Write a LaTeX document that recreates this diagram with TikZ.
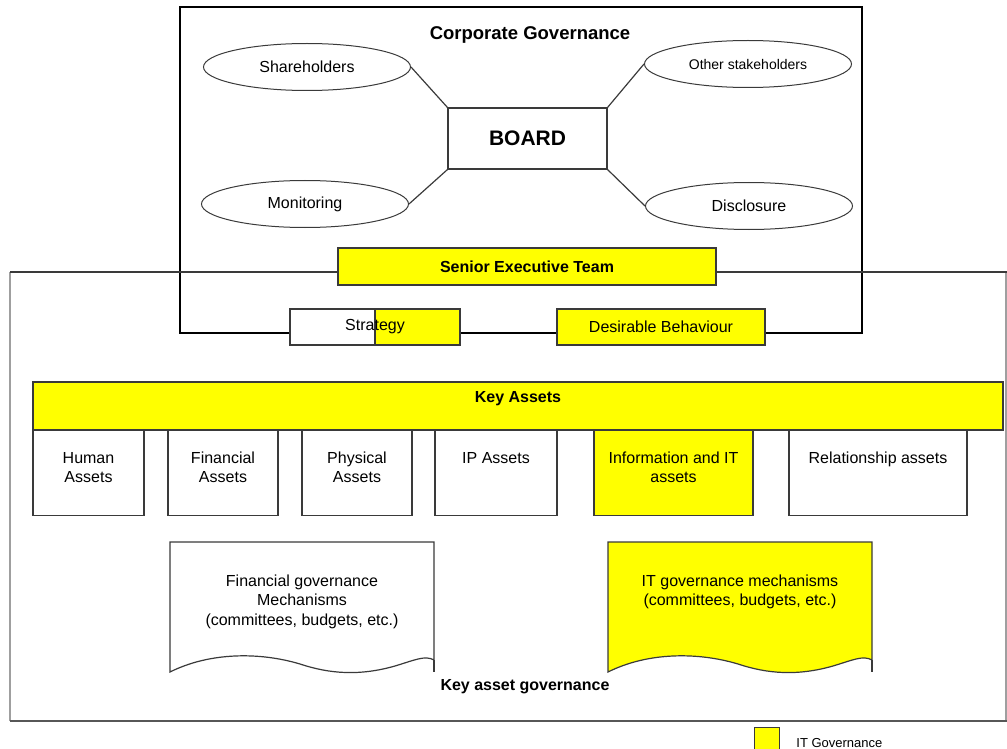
\documentclass[tikz,border=0pt]{standalone}
\usepackage{fontspec}
\setmainfont{Liberation Sans}
\usetikzlibrary{shapes.geometric,positioning}
\definecolor{ityellow}{HTML}{FFFF00}
\definecolor{edge}{HTML}{3A3A3A}

\tikzset{
  txt/.style={font=\fontsize{16}{19.2}\selectfont,align=center,inner sep=0pt},
  boldtxt/.style={font=\bfseries\fontsize{16}{19.2}\selectfont,align=center,inner sep=0pt},
  oval/.style={ellipse,draw=edge,line width=1pt,minimum width=207pt,minimum height=47pt,inner sep=0pt,txt},
  box/.style={rectangle,draw=edge,line width=1.2pt,inner sep=0pt},
  asset/.style={box,fill=white,minimum height=85pt,anchor=north},
  link/.style={draw=edge,line width=1.2pt},
  doc/.style={draw=edge,line width=1.2pt}
}

\begin{document}
\begin{tikzpicture}[x=1pt,y=-1pt]
  \useasboundingbox (0,0) rectangle (1007,749);

  % the two frames
  \draw[black,line width=1.5pt] (180,7) rectangle (862,333);
  \draw[gray!75,line width=1.2pt] (10,272) -- (10,721);
  \draw[gray!75,line width=1.2pt] (1006,272) -- (1006,721);
  \draw[edge!85,line width=2pt] (10,721) -- (1007,721);
  \draw[edge,line width=2pt] (10,272) -- (1007,272);

  % corporate governance
  \node[font=\bfseries\fontsize{18.5}{22}\selectfont] (corp) at (530,35) {Corporate Governance};
  \node[oval] (share) at (307,67) {Shareholders};
  \node[oval,font=\fontsize{14}{17}\selectfont] (other) at (748,64) {Other stakeholders};
  \node[oval] (monit) at (305,204) {Monitoring};
  \node[oval] (discl) at (749,206) {Disclosure};
  \node[box,fill=white,minimum width=159pt,minimum height=61pt,font=\bfseries\fontsize{21}{25}\selectfont] (board) at (527.5,138.5) {BOARD};

  \draw[link] (share.east) -- (board.north west);
  \draw[link] (other.west) -- (board.north east);
  \draw[link] (monit.east) -- (board.south west);
  \draw[link] (discl.west) -- (board.south east);

  \node[box,boldtxt,fill=ityellow,minimum width=378pt,minimum height=37pt] (senior) at (527,266.5) {Senior Executive Team};
  \node[box,txt,fill=white,minimum width=170pt,minimum height=36pt,
        path picture={\fill[ityellow] (path picture bounding box.north) rectangle (path picture bounding box.south east);
                      \draw[edge,line width=1.2pt] (path picture bounding box.north) -- (path picture bounding box.south);}]
        (strategy) at (375,327) {Strategy};
  \node[box,txt,fill=ityellow,minimum width=208pt,minimum height=36pt] (behave) at (661,327) {Desirable Behaviour};

  % key assets
  \node[box,fill=ityellow,minimum width=970pt,minimum height=48pt] (keyassets) at (518,406) {};
  \node[boldtxt,anchor=north,below=10pt of keyassets.north] (katext) {Key Assets};

  \node[asset,minimum width=111pt] (human) at (88.5,430) {};
  \node[asset,minimum width=110pt] (financial) at (223,430) {};
  \node[asset,minimum width=110pt] (physical) at (357,430) {};
  \node[asset,minimum width=122pt] (ipassets) at (496,430) {};
  \node[asset,fill=ityellow,minimum width=159pt] (infoit) at (673.5,430) {};
  \node[asset,minimum width=178pt] (relation) at (878,430) {};

  \node[txt,below=22pt of human.north] {Human\\Assets};
  \node[txt,below=22pt of financial.north] {Financial\\Assets};
  \node[txt,below=22pt of physical.north] {Physical\\Assets};
  \node[txt,below=22pt of ipassets.north] {IP Assets};
  \node[txt,below=22pt of infoit.north] {Information and IT\\assets};
  \node[txt,below=22pt of relation.north] {Relationship assets};

  % governance mechanisms
  \filldraw[doc,fill=white] (170,672) -- (170,542) -- (434,542) -- (434,660)
    .. controls (425,655) and (415,660) .. (395,666)
    .. controls (360,676) and (330,674) .. (300,664)
    .. controls (260,652) and (210,652) .. (170,672) -- cycle;
  \draw[doc] (434,660) -- (434,672);
  \coordinate (findoc) at (302,542);
  \node[txt,below=33pt of findoc] {Financial governance\\Mechanisms\\(committees, budgets, etc.)};

  \filldraw[doc,fill=ityellow] (608,672) -- (608,542) -- (872,542) -- (872,660)
    .. controls (863,655) and (853,660) .. (833,666)
    .. controls (798,676) and (768,674) .. (738,664)
    .. controls (698,652) and (648,652) .. (608,672) -- cycle;
  \draw[doc] (872,660) -- (872,672);
  \coordinate (itdoc) at (740,542);
  \node[txt,below=33pt of itdoc] {IT governance mechanisms\\(committees, budgets, etc.)};

  \node[boldtxt] (kag) at (525,687) {Key asset governance};

  % legend
  \node[box,fill=ityellow,minimum width=25pt,minimum height=30pt,anchor=north west] (legbox) at (754,727) {};
  \node[font=\fontsize{13}{15}\selectfont,inner sep=0pt,anchor=west,right=16pt of legbox.east] (legtext) {IT Governance};
\end{tikzpicture}
\end{document}
